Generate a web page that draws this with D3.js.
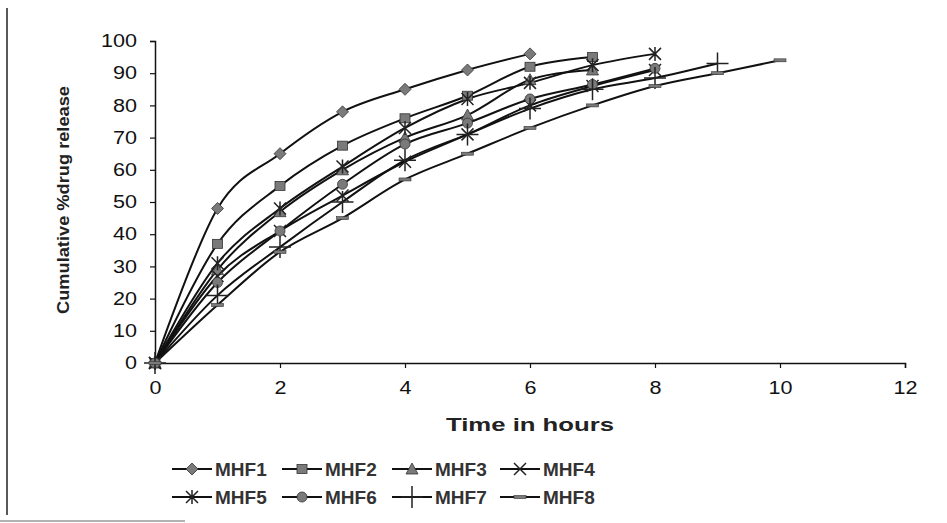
<!DOCTYPE html>
<html>
<head>
<meta charset="utf-8">
<script src="https://cdn.jsdelivr.net/npm/d3@7"></script>
<style>
  body { margin: 0; background: #fff; }
  svg { font-family: Arial, "Liberation Sans", sans-serif; }
</style>
</head>
<body>
<div id="vis"></div>
<script>
// values
let hours = [0, 1, 2, 3, 4, 5, 6, 7, 8, 9, 10];
let seriesNames = ["MHF1", "MHF2", "MHF3", "MHF4", "MHF5", "MHF6", "MHF7", "MHF8"];
let mhf1 = [0, 48, 65, 78, 85, 91, 96];
let mhf2 = [0, 37, 55, 67.5, 76, 83, 92, 95];
let mhf3 = [0, 29, 47, 60, 70, 77, 88, 91];
let mhf4 = [0, 27, 41, 52, 62.5, 71, 80, 86, 91];
let mhf5 = [0, 31, 48, 61, 73, 82, 87, 92.5, 96];
let mhf6 = [0, 25, 41, 55.5, 68, 74.5, 82, 86.5, 91.5];
let mhf7 = [0, 21, 36, 50, 63, 71, 79, 85, 88.5, 93];
let mhf8 = [0, 18, 34.5, 45, 57, 65, 73, 80, 86, 90, 94];
let xTicks = [0, 2, 4, 6, 8, 10, 12];
let yTicks = [0, 10, 20, 30, 40, 50, 60, 70, 80, 90, 100];

let allSeries = [mhf1, mhf2, mhf3, mhf4, mhf5, mhf6, mhf7, mhf8];
let markers = ["diamond", "square", "triangle", "x", "star", "circle", "cross", "dash"];

let w = 947, h = 523;
let svg = d3.select("#vis").append("svg")
  .attr("width", w)
  .attr("height", h);

// outer frame of the scanned figure
svg.append("line").attr("x1", 7).attr("y1", 8).attr("x2", 7).attr("y2", 515)
  .attr("stroke", "#222").attr("stroke-width", 1.5);
svg.append("line").attr("x1", 0).attr("y1", 521).attr("x2", 185).attr("y2", 521)
  .attr("stroke", "#999").attr("stroke-width", 1.5);

let x = d3.scaleLinear().domain([0, 12]).range([155, 905]);
let y = d3.scaleLinear().domain([0, 100]).range([363, 41]);

let xAxis = svg.append("g")
  .attr("transform", "translate(0,363)")
  .call(d3.axisBottom(x).tickValues(xTicks).tickSize(5).tickPadding(13));
let yAxis = svg.append("g")
  .attr("transform", "translate(155,0)")
  .call(d3.axisLeft(y).tickValues(yTicks).tickSize(5).tickPadding(13));

[xAxis, yAxis].forEach(function(a){
  a.select(".domain").attr("stroke", "#111").attr("stroke-width", 1.5);
  a.selectAll(".tick line").attr("stroke", "#111").attr("stroke-width", 1.2);
  a.selectAll(".tick text").attr("font-size", 18).attr("fill", "#111")
    .attr("font-family", "Arial, 'Liberation Sans', sans-serif")
    .attr("textLength", function(d){ return String(d).length * 12; })
    .attr("lengthAdjust", "spacingAndGlyphs");
});

svg.append("text")
  .attr("x", 530).attr("y", 431)
  .attr("text-anchor", "middle")
  .attr("font-size", 19).attr("font-weight", "bold").attr("fill", "#222")
  .attr("textLength", 168).attr("lengthAdjust", "spacingAndGlyphs")
  .text("Time in hours");

svg.append("text")
  .attr("transform", "translate(69,200) rotate(-90)")
  .attr("text-anchor", "middle")
  .attr("font-size", 16).attr("font-weight", "bold").attr("fill", "#222")
  .attr("textLength", 228).attr("lengthAdjust", "spacingAndGlyphs")
  .text("Cumulative %drug release");

let line = d3.line()
  .x(function(d, i){ return x(hours[i]); })
  .y(function(d){ return y(d); })
  .curve(d3.curveCardinal.tension(0));

function drawMarker(g, type, cx, cy) {
  let fill = "#7a7a7a", stroke = "#333";
  if (type == "diamond") {
    g.append("path").attr("d", `M${cx},${cy-6}L${cx+6},${cy}L${cx},${cy+6}L${cx-6},${cy}Z`)
      .attr("fill", fill).attr("stroke", stroke).attr("stroke-width", 0.8);
  } else if (type == "square") {
    g.append("rect").attr("x", cx - 5).attr("y", cy - 4.5).attr("width", 10).attr("height", 9)
      .attr("fill", fill).attr("stroke", stroke).attr("stroke-width", 0.8);
  } else if (type == "triangle") {
    g.append("path").attr("d", `M${cx},${cy-6}L${cx+6},${cy+5}L${cx-6},${cy+5}Z`)
      .attr("fill", fill).attr("stroke", stroke).attr("stroke-width", 0.8);
  } else if (type == "circle") {
    g.append("circle").attr("cx", cx).attr("cy", cy).attr("r", 5)
      .attr("fill", fill).attr("stroke", stroke).attr("stroke-width", 0.8);
  } else if (type == "x") {
    g.append("path").attr("d", `M${cx-6},${cy-6}L${cx+6},${cy+6}M${cx-6},${cy+6}L${cx+6},${cy-6}`)
      .attr("stroke", "#222").attr("stroke-width", 1.5);
  } else if (type == "star") {
    g.append("path").attr("d", `M${cx-6},${cy-6}L${cx+6},${cy+6}M${cx-6},${cy+6}L${cx+6},${cy-6}M${cx},${cy-7}L${cx},${cy+7}`)
      .attr("stroke", "#222").attr("stroke-width", 1.5);
  } else if (type == "cross") {
    g.append("path").attr("d", `M${cx-11},${cy}L${cx+11},${cy}M${cx},${cy-11}L${cx},${cy+11}`)
      .attr("stroke", "#222").attr("stroke-width", 1.5);
  } else if (type == "dash") {
    g.append("rect").attr("x", cx - 6).attr("y", cy - 1.5).attr("width", 12).attr("height", 3)
      .attr("fill", fill).attr("stroke", stroke).attr("stroke-width", 0.6);
  }
}

allSeries.forEach(function(s, k){
  svg.append("path")
    .attr("d", line(s))
    .attr("fill", "none")
    .attr("stroke", "#111")
    .attr("stroke-width", 2);
});
allSeries.forEach(function(s, k){
  let g = svg.append("g");
  s.forEach(function(v, i){
    drawMarker(g, markers[k], x(hours[i]), y(v));
  });
});

// legend
let legX = [172, 282, 392, 500];
let legY = [469, 497];
seriesNames.forEach(function(name, k){
  let lx = legX[k % 4], ly = legY[Math.floor(k / 4)];
  let g = svg.append("g");
  g.append("line").attr("x1", lx).attr("y1", ly).attr("x2", lx + 40).attr("y2", ly)
    .attr("stroke", "#111").attr("stroke-width", 2);
  drawMarker(g, markers[k], lx + 20, ly);
  g.append("text").attr("x", lx + 43).attr("y", ly + 7)
    .attr("font-size", 19).attr("font-weight", "bold").attr("fill", "#333")
    .text(name);
});
</script>
</body>
</html>
